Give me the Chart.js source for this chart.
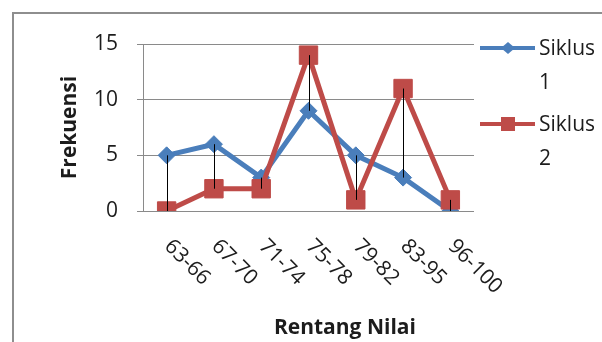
<!DOCTYPE html>
<html>
<head>
<meta charset="utf-8">
<title>Frekuensi per Rentang Nilai</title>
<script src="https://cdn.jsdelivr.net/npm/chart.js@4.4.1/dist/chart.umd.min.js"></script>
<style>
  html, body { margin: 0; padding: 0; background: #ffffff; }
  #wrap { width: 602px; height: 342px; position: relative; }
</style>
</head>
<body>
<div id="wrap"><canvas id="chart" width="602" height="342"></canvas></div>
<script>
// Score ranges on the x axis
const categories = ['63-66', '67-70', '71-74', '75-78', '79-82', '83-95', '96-100'];
// Frequency per range, cycle 1 and cycle 2
const siklus1 = [5, 6, 3, 9, 5, 3, 0];
const siklus2 = [0, 2, 2, 14, 1, 11, 1];
// Legend entries (each name wraps onto two lines)
const seriesNames = [['Siklus', '1'], ['Siklus', '2']];
// Y axis ticks
const yTicks = [0, 5, 10, 15];

const FONT = '"Open Sans", "Liberation Sans", sans-serif';
const TEXT = '#1c1c1c';
const GRID = '#8a8a8a';
const BLUE = '#4A7EBB';
const RED = '#BE4B48';

// Outer frame of the chart
const framePlugin = {
  id: 'frame',
  beforeDraw(chart) {
    const ctx = chart.ctx;
    ctx.save();
    ctx.fillStyle = '#ffffff';
    ctx.fillRect(0, 0, chart.width, chart.height);
    ctx.strokeStyle = '#8e8e8e';
    ctx.lineWidth = 2;
    ctx.strokeRect(13, 13, chart.width + 40, chart.height + 40);
    ctx.restore();
  }
};

// Thin vertical lines joining the two series at each category
const dropLinePlugin = {
  id: 'dropLines',
  afterDatasetsDraw(chart) {
    const ctx = chart.ctx;
    const a = chart.getDatasetMeta(0).data;
    const b = chart.getDatasetMeta(1).data;
    ctx.save();
    ctx.strokeStyle = '#000000';
    ctx.lineWidth = 1;
    for (let i = 0; i < a.length; i++) {
      const x = Math.round(a[i].x) + 0.5;
      ctx.beginPath();
      ctx.moveTo(x, a[i].y);
      ctx.lineTo(x, b[i].y);
      ctx.stroke();
    }
    ctx.restore();
  }
};

// Slanted category labels, x axis title and the wrapped legend
const labelsPlugin = {
  id: 'labels',
  afterDraw(chart) {
    const ctx = chart.ctx;
    const xs = chart.scales.x;
    const area = chart.chartArea;
    ctx.save();
    ctx.fillStyle = TEXT;
    ctx.font = '21px ' + FONT;
    ctx.textAlign = 'left';
    ctx.textBaseline = 'middle';
    categories.forEach((c, i) => {
      const x = xs.getPixelForValue(i);
      ctx.save();
      ctx.translate(x + 1, area.bottom + 32);
      ctx.rotate(Math.PI / 4);
      ctx.fillText(c, 0, 0);
      ctx.restore();
    });

    ctx.font = 'bold 21px ' + FONT;
    ctx.textAlign = 'center';
    ctx.fillText('Rentang Nilai', area.left + (area.right - area.left) * 0.61, 328);

    // legend
    const ds = chart.data.datasets;
    const rowsY = [48, 124];
    ds.forEach((d, k) => {
      const y = rowsY[k];
      ctx.strokeStyle = d.borderColor;
      ctx.lineWidth = 4;
      ctx.beginPath();
      ctx.moveTo(480, y);
      ctx.lineTo(535, y);
      ctx.stroke();
      ctx.fillStyle = d.borderColor;
      ctx.beginPath();
      if (d.pointStyle === 'rectRot') {
        ctx.moveTo(508 - 7, y);
        ctx.lineTo(508, y - 6);
        ctx.lineTo(508 + 7, y);
        ctx.lineTo(508, y + 6);
        ctx.closePath();
      } else {
        ctx.rect(508 - 7, y - 7, 14, 14);
      }
      ctx.fill();
      ctx.fillStyle = TEXT;
      ctx.font = '21px ' + FONT;
      ctx.textAlign = 'left';
      ctx.textBaseline = 'middle';
      seriesNames[k].forEach((t, j) => ctx.fillText(t, 539, y + 1 + j * 34));
    });
    ctx.restore();
  }
};

new Chart(document.getElementById('chart'), {
  type: 'line',
  data: {
    labels: categories,
    datasets: [
      {
        label: seriesNames[0].join(' '),
        data: siklus1,
        borderColor: BLUE,
        backgroundColor: BLUE,
        borderWidth: 5,
        pointStyle: 'rectRot',
        pointRadius: 8.5,
        pointBorderWidth: 1,
        pointBackgroundColor: BLUE,
        pointBorderColor: BLUE,
        tension: 0,
        order: 2
      },
      {
        label: seriesNames[1].join(' '),
        data: siklus2,
        borderColor: RED,
        backgroundColor: RED,
        borderWidth: 5,
        pointStyle: 'rect',
        pointRadius: 13,
        pointBorderWidth: 1,
        pointBackgroundColor: RED,
        pointBorderColor: RED,
        tension: 0,
        order: 1
      }
    ]
  },
  options: {
    responsive: false,
    animation: false,
    devicePixelRatio: 1,
    layout: { padding: { top: 44, right: 128, bottom: 131, left: 0 } },
    plugins: {
      legend: { display: false },
      tooltip: { enabled: false }
    },
    scales: {
      x: {
        display: false,
        offset: true
      },
      y: {
        min: 0,
        max: 15,
        afterFit(scale) { scale.width = 143; },
        afterBuildTicks(scale) { scale.ticks = yTicks.map(v => ({ value: v })); },
        grid: { color: GRID, lineWidth: 1, tickLength: 6, drawTicks: true },
        border: { display: true, color: GRID, width: 1 },
        ticks: {
          color: TEXT,
          padding: 19,
          font: { family: FONT, size: 21 }
        },
        title: {
          display: true,
          text: 'Frekuensi',
          color: TEXT,
          font: { family: FONT, size: 21, weight: 'bold' },
          padding: { top: 57, bottom: 0 }
        }
      }
    }
  },
  plugins: [framePlugin, dropLinePlugin, labelsPlugin]
});
</script>
</body>
</html>
